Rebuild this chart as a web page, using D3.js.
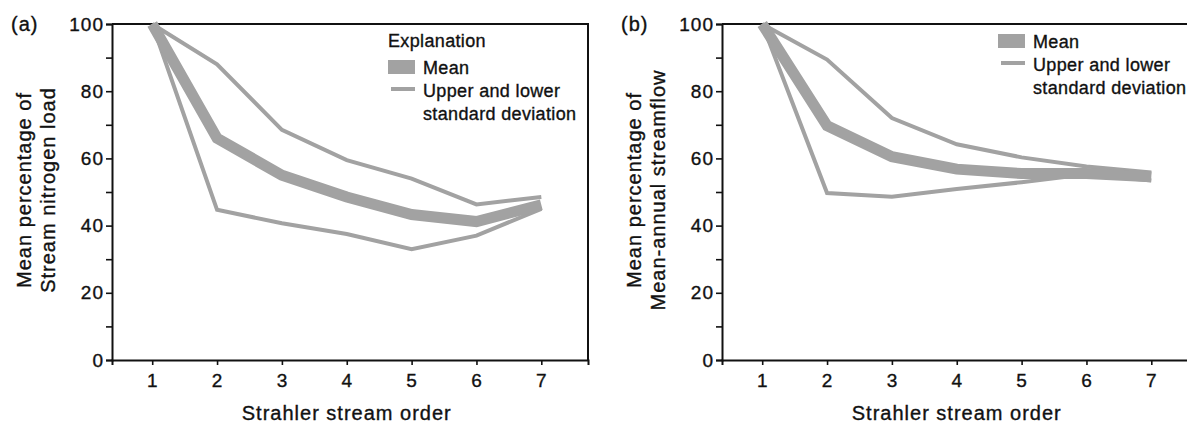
<!DOCTYPE html>
<html>
<head>
<meta charset="utf-8">
<script src="https://cdn.jsdelivr.net/npm/d3@7"></script>
<style>
  html, body { margin: 0; padding: 0; background: #fff; }
  svg { display: block; }
  text { font-family: "Liberation Sans", Arial, Helvetica, sans-serif; fill: #111; stroke: #111; stroke-width: 0.35px; }
</style>
</head>
<body>
<svg id="chart" width="1187" height="426"></svg>
<script>
// ---- Data ----
const orders = [1, 2, 3, 4, 5, 6, 7];
const nitrogenMean  = [100, 66, 55, 48.5, 43.3, 41.2, 46.2];
const nitrogenUpper = [100, 88, 68.5, 59.5, 54, 46.3, 48.5];
const nitrogenLower = [100, 44.7, 40.7, 37.5, 33, 37, 45];
const flowMean  = [100, 69.7, 60.5, 56.8, 55.5, 55.5, 54.5];
const flowUpper = [100, 89.4, 72, 64.2, 60.3, 57.6, 55.8];
const flowLower = [100, 49.7, 48.6, 50.9, 52.9, 55.3, 53.4];
const yMajorTicks = [0, 20, 40, 60, 80, 100];
const yMinorTicks = [10, 30, 50, 70, 90];
const xTicks = [1, 2, 3, 4, 5, 6, 7];
const xDomain = [0.38, 7.72];
const yDomain = [0, 100];

const panels = [
  { tag: "(a)", left: 112, yTitle: ["Mean percentage of", "Stream nitrogen load"],
    mean: nitrogenMean, upper: nitrogenUpper, lower: nitrogenLower, explanation: true },
  { tag: "(b)", left: 722, yTitle: ["Mean percentage of", "Mean-annual streamflow"],
    mean: flowMean, upper: flowUpper, lower: flowLower, explanation: false }
];

const GRAY = "#a2a2a2";
const plotTop = 24, plotBottom = 360, plotW = 476;
const svg = d3.select("#chart");

panels.forEach(p => {
  const x = d3.scaleLinear().domain(xDomain).range([p.left, p.left + plotW]);
  const y = d3.scaleLinear().domain(yDomain).range([plotBottom, plotTop]);
  const g = svg.append("g");

  // frame (top and right)
  g.append("path")
    .attr("d", `M${x(xDomain[0])},${y(yDomain[1])}H${x(xDomain[1])}V${y(yDomain[0])}`)
    .attr("fill", "none").attr("stroke", "#111").attr("stroke-width", 2);

  // left axis: major with labels
  const yAx = g.append("g").attr("transform", `translate(${x(xDomain[0])},0)`)
    .call(d3.axisLeft(y).tickValues(yMajorTicks).tickSize(6).tickPadding(2).tickFormat(d3.format("d")));
  g.append("g").attr("transform", `translate(${x(xDomain[0])},0)`)
    .call(d3.axisLeft(y).tickValues(yMinorTicks).tickSize(6).tickFormat(""))
    .call(s => s.select(".domain").remove());
  // bottom axis
  const xAx = g.append("g").attr("transform", `translate(0,${y(yDomain[0])})`)
    .call(d3.axisBottom(x).tickValues(xTicks).tickSize(5).tickPadding(9).tickFormat(d3.format("d")));

  [yAx, xAx].forEach(a => {
    a.select(".domain").attr("stroke", "#111").attr("stroke-width", 2);
    a.selectAll(".tick text").attr("font-size", 19).attr("letter-spacing", 1)
      .attr("font-family", "'Liberation Sans', Arial, sans-serif").attr("fill", "#111");
  });
  g.selectAll(".tick line").attr("stroke", "#111").attr("stroke-width", 1.6);

  // lines
  const line = d3.line().x((d, i) => x(orders[i])).y(d => y(d));
  [p.upper, p.lower].forEach(arr => {
    g.append("path").datum(arr).attr("d", line)
      .attr("fill", "none").attr("stroke", GRAY).attr("stroke-width", 4)
      .attr("stroke-linejoin", "miter");
  });
  g.append("path").datum(p.mean).attr("d", line)
    .attr("fill", "none").attr("stroke", GRAY).attr("stroke-width", 11)
    .attr("stroke-linejoin", "miter").attr("stroke-linecap", "butt");

  // panel tag
  svg.append("text").attr("x", p.left - 101).attr("y", 31)
    .attr("font-size", 20).attr("letter-spacing", 1).text(p.tag);

  // y title
  const cx = p.left - 81, cy = 190;
  p.yTitle.forEach((t, i) => {
    svg.append("text")
      .attr("transform", `translate(${cx + i * 24},${cy}) rotate(-90)`)
      .attr("text-anchor", "middle").attr("font-size", 20).attr("letter-spacing", 1)
      .text(t);
  });

  // x title
  svg.append("text").attr("x", x(4)).attr("y", 420)
    .attr("text-anchor", "middle").attr("font-size", 20).attr("letter-spacing", 1)
    .text("Strahler stream order");

  // legend
  const lx = p.left + 276, tx = p.left + 311;
  const off = p.explanation ? 0 : -26;
  if (p.explanation) {
    svg.append("text").attr("x", lx).attr("y", 47).attr("font-size", 18)
      .attr("letter-spacing", 0.35).text("Explanation");
  }
  svg.append("rect").attr("x", lx).attr("y", 60 + off).attr("width", 27).attr("height", 14)
    .attr("fill", GRAY);
  svg.append("text").attr("x", tx).attr("y", 74 + off).attr("font-size", 18)
    .attr("letter-spacing", 0.35).text("Mean");
  svg.append("line").attr("x1", lx + 3).attr("x2", lx + 27).attr("y1", 89 + off).attr("y2", 89 + off)
    .attr("stroke", GRAY).attr("stroke-width", 4);
  svg.append("text").attr("x", tx).attr("y", 97 + off).attr("font-size", 18)
    .attr("letter-spacing", 0.35).text("Upper and lower");
  svg.append("text").attr("x", tx).attr("y", 120 + off).attr("font-size", 18)
    .attr("letter-spacing", 0.35).text("standard deviation");
});
</script>
</body>
</html>
